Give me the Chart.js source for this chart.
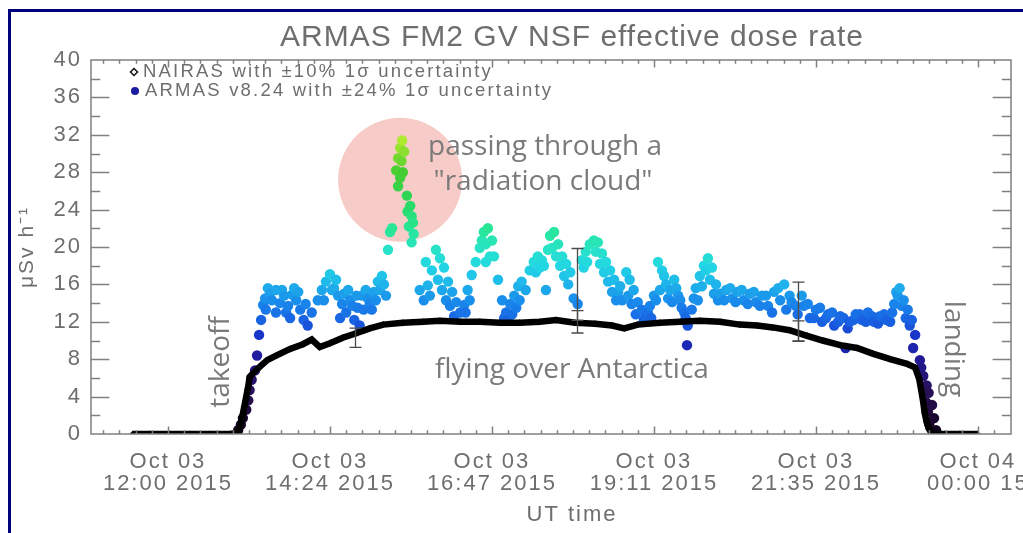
<!DOCTYPE html>
<html>
<head>
<meta charset="utf-8">
<title>ARMAS FM2 GV NSF effective dose rate</title>
<script src="https://cdn.jsdelivr.net/npm/chart.js@4.4.1/dist/chart.umd.min.js"></script>
<style>
  html, body { margin: 0; padding: 0; background: #fff; overflow: hidden; }
  #box { position: absolute; left: 8px; top: 9px; width: 1100px; height: 600px; border: 3px solid #00007a; }
  #doseChart { position: absolute; left: 0; top: 0; }
</style>
</head>
<body>
<div id="box"></div>
<canvas id="doseChart" width="1023" height="533"></canvas>
<script>
// ---- data (times are UT hours counted from Oct 03 00:00, so 24 = Oct 04 00:00) ----
const chartTitle = "ARMAS FM2 GV NSF effective dose rate";
const yAxisTitle = "\u03bcSv h\u207b\u00b9";
const xAxisTitle = "UT time";
const seriesLabels = [
  "NAIRAS with \u00b110% 1\u03c3 uncertainty",
  "ARMAS v8.24 with \u00b124% 1\u03c3 uncertainty"
];

const xTickValues = [12, 14.4, 16.8, 19.2, 21.6, 24];
const xTickLabels = [
  ["Oct 03", "12:00 2015"],
  ["Oct 03", "14:24 2015"],
  ["Oct 03", "16:47 2015"],
  ["Oct 03", "19:11 2015"],
  ["Oct 03", "21:35 2015"],
  ["Oct 04", "00:00 15"]
];

const nairasTime = [11.48, 11.73, 12.03, 12.33, 12.62, 12.92, 13.02, 13.07, 13.10, 13.13, 13.16, 13.19,
  13.21, 13.26, 13.33, 13.47, 13.61, 13.81, 14.00, 14.13, 14.25, 14.40, 14.59, 14.80, 14.99, 15.19,
  15.48, 15.78, 16.03, 16.33, 16.62, 16.92, 17.21, 17.51, 17.75, 18.03, 18.33, 18.58, 18.76, 18.96,
  19.29, 19.59, 19.88, 20.18, 20.47, 20.73, 20.96, 21.21, 21.47, 21.70, 21.96, 22.21, 22.44, 22.70,
  22.95, 23.07, 23.13, 23.16, 23.19, 23.21, 23.24, 23.27, 23.32, 23.51, 23.73, 23.99];
const nairasDose = [0, 0, 0, 0, 0, 0, 0.1, 0.8, 1.8, 2.9, 4.0, 5.1,
  6.1, 6.5, 7.0, 7.9, 8.4, 9.1, 9.6, 10.1, 9.3, 9.7, 10.3, 10.8, 11.3, 11.7,
  11.9, 12.0, 12.1, 12.0, 12.0, 11.9, 11.9, 12.0, 12.2, 11.9, 11.8, 11.6, 11.3, 11.7,
  11.9, 12.0, 12.1, 12.0, 11.7, 11.6, 11.4, 11.1, 10.5, 10.0, 9.5, 9.2, 8.6, 8.0,
  7.5, 7.1, 5.9, 4.7, 3.4, 2.3, 1.3, 0.6, 0, 0, 0, 0];

const armasTime = [
  // takeoff
  13.04, 13.08, 13.11, 13.16, 13.19, 13.21, 13.24, 13.29, 13.32, 13.35, 13.38, 13.41,
  13.44, 13.45, 13.48, 13.51, 13.54, 13.60, 13.60, 13.66, 13.69, 13.72, 13.75, 13.78, 13.81, 13.84,
  13.87, 13.90, 13.93, 13.96, 14.01, 14.04, 14.07, 14.13,
  14.22, 14.28, 14.31, 14.34, 14.40, 14.43, 14.46, 14.49, 14.52, 14.55, 14.58, 14.61, 14.64, 14.67,
  14.70, 14.73, 14.76, 14.79, 14.81, 14.84, 14.87, 14.90, 14.93, 14.96, 14.99, 15.02, 15.05, 15.08,
  15.11, 15.14, 15.17, 15.20, 15.23,
  // radiation cloud
  15.26, 15.29, 15.32, 15.38, 15.41, 15.41, 15.44, 15.44, 15.46, 15.47, 15.48, 15.50, 15.54, 15.55,
  15.57, 15.59, 15.61, 15.61, 15.63, 15.64,
  15.73, 15.79, 15.82, 15.85, 15.88, 15.91, 15.97, 16.00, 16.03, 16.06, 16.09, 16.12, 16.15, 16.18,
  16.21, 16.24, 16.27, 16.33, 16.39, 16.41, 16.44, 16.47, 16.50, 16.56,
  16.62, 16.65, 16.68, 16.71, 16.71, 16.74, 16.77, 16.80, 16.83, 16.89, 16.95, 16.98, 17.01, 17.04,
  17.07, 17.10, 17.13, 17.16, 17.19, 17.21, 17.24, 17.30,
  17.36, 17.42, 17.45, 17.48, 17.51, 17.54, 17.57, 17.60, 17.63, 17.66, 17.69, 17.72, 17.75, 17.78,
  17.81, 17.84, 17.87, 17.90, 17.93, 17.96, 18.01, 18.07,
  18.13, 18.16, 18.19, 18.21, 18.25, 18.31, 18.34, 18.37, 18.40, 18.43, 18.46, 18.49, 18.52, 18.55,
  18.58, 18.61, 18.64, 18.67, 18.70, 18.73, 18.79, 18.82, 18.84, 18.87, 18.90, 18.93, 18.96,
  19.02, 19.05, 19.08, 19.11, 19.14, 19.16, 19.20, 19.23, 19.26, 19.29, 19.32, 19.35, 19.38, 19.41,
  19.44, 19.47, 19.50, 19.53, 19.56, 19.59, 19.61, 19.65, 19.67, 19.69, 19.70, 19.76, 19.79, 19.82,
  19.85, 19.88, 19.91, 19.94, 19.97, 20.00, 20.03, 20.06, 20.09, 20.12, 20.15, 20.18,
  20.24, 20.27, 20.33, 20.36, 20.41, 20.44, 20.50, 20.53, 20.59, 20.62, 20.68, 20.71, 20.77, 20.80,
  20.86, 20.89, 20.95, 20.98, 21.04, 21.07, 21.13, 21.16, 21.21, 21.24, 21.30, 21.33, 21.39, 21.42,
  21.48, 21.51, 21.57, 21.60, 21.66, 21.69, 21.75, 21.78, 21.84, 21.87, 21.93, 21.96, 22.01, 22.04,
  22.07, 22.10, 22.16, 22.19, 22.25, 22.28, 22.34, 22.37, 22.43, 22.46, 22.52, 22.55, 22.61, 22.64,
  22.70, 22.73, 22.76, 22.79, 22.81, 22.84, 22.87, 22.90, 22.93, 22.96, 22.99, 23.02, 23.07,
  // landing
  23.04, 23.14, 23.16, 23.19, 23.23, 23.24, 23.26, 23.27, 23.28, 23.32, 23.35, 23.38
];
const armasDose = [
  0.4, 1.0, 1.7, 2.6, 3.6, 4.7, 5.8, 6.8, 8.4, 10.6, 12.2, 13.8,
  14.5, 13.3, 15.6, 15.0, 14.3, 15.4, 13.0, 14.0, 15.4, 14.8, 13.0, 13.7, 12.4, 14.9,
  15.6, 14.3, 15.2, 13.3, 12.2, 13.9, 11.6, 13.0,
  14.3, 15.4, 14.3, 16.3, 17.1, 15.4, 15.6, 16.5, 14.8, 12.4, 13.9, 15.0, 13.0, 15.4,
  14.3, 13.7, 12.2, 14.8, 13.5, 11.6, 14.8, 13.3, 15.4, 14.5, 13.9, 13.3, 15.2, 14.3,
  16.3, 15.4, 16.9, 16.0, 14.8,
  19.7, 21.6, 22.0, 28.2, 29.5, 26.5, 30.6, 27.4, 29.2, 31.4, 28.0, 30.2, 25.5, 23.8,
  22.2, 24.4, 23.3, 20.5, 22.6, 21.4,
  15.4, 14.3, 18.4, 15.9, 14.8, 17.5, 19.7, 16.5, 18.8, 15.4, 17.8, 14.3, 16.3, 13.7,
  15.2, 12.6, 14.1, 13.0, 13.8, 13.0, 15.4, 14.3, 17.0, 18.4,
  19.9, 20.7, 21.6, 20.3, 18.4, 22.0, 19.0, 20.7, 19.0, 16.5, 14.3, 12.4, 13.0, 12.2,
  13.9, 12.8, 14.8, 13.5, 15.8, 14.3, 16.3, 15.4,
  17.5, 18.4, 17.3, 19.0, 17.8, 18.6, 18.0, 15.4, 19.7, 21.2, 19.9, 21.6, 19.0, 20.3,
  18.0, 19.0, 16.9, 18.2, 16.0, 17.3, 14.5, 13.9,
  18.6, 17.8, 19.5, 18.4, 20.3, 20.7, 19.5, 20.5, 18.2, 19.3, 17.3, 18.4, 16.3, 17.5,
  15.2, 16.5, 14.3, 15.2, 15.8, 14.3, 17.3, 14.8, 16.5, 13.9, 15.4, 12.8, 14.1,
  13.3, 12.2, 12.6, 13.0, 13.7, 12.4, 14.8, 14.3, 18.4, 15.4, 17.5, 16.9, 16.0, 14.5,
  15.4, 14.1, 16.5, 15.6, 14.8, 14.3, 13.5, 13.0, 12.4, 9.5, 11.6, 13.3, 14.5, 15.6,
  14.3, 16.9, 15.8, 18.0, 17.5, 18.8, 16.5, 17.8, 15.0, 16.0, 14.3, 15.0,
  14.3, 15.4, 15.6, 14.5, 14.1, 15.2, 15.4, 14.3, 13.9, 15.0, 15.2, 14.1, 13.7, 14.8,
  14.8, 13.7, 13.0, 15.2, 15.6, 14.3, 16.0, 13.3, 14.8, 14.1, 13.7, 12.8, 14.8, 13.7,
  13.9, 12.4, 12.4, 13.3, 13.5, 12.0, 12.4, 12.8, 13.0, 11.6, 12.0, 12.6, 12.4, 9.2,
  11.3, 12.0, 12.2, 12.8, 12.8, 12.2, 12.0, 13.0, 12.6, 12.0, 11.8, 12.6, 12.8, 12.2,
  12.0, 13.0, 13.9, 15.2, 14.8, 15.6, 13.7, 14.3, 12.4, 13.3, 11.6, 12.2, 10.6,
  9.2, 7.9, 7.1, 6.2, 3.4, 5.2, 2.4, 4.4, 1.1, 3.1, 1.7, 0.4
];

// sample error bars (relative 1 sigma)
const errTime = [14.77, 18.06, 21.33];
const errNairasDose = [10.3, 12.0, 11.0];
const errArmasDose = [null, 16.0, 13.1];
const nairasSigma = 0.10;
const armasSigma = 0.24;

// highlighted "radiation cloud"
const cloudTime = 15.44;
const cloudDose = 27.2;

// ---- styles ----
const axisFont = "'Liberation Sans', Arial, sans-serif";
const noteFont = "'Open Sans', sans-serif";
const textGray = "#6e6e6e";

const colorStops = [
  [0, [15, 0, 25]], [4, [40, 15, 80]], [8, [35, 25, 150]], [10.5, [25, 50, 200]],
  [12, [25, 95, 225]], [14, [25, 135, 235]], [16, [30, 180, 235]], [18, [35, 215, 228]],
  [20, [40, 228, 195]], [22, [40, 230, 150]], [25, [40, 215, 90]], [28, [70, 205, 50]],
  [30.5, [150, 225, 45]], [32, [190, 240, 50]]
];

function doseColor(v) {
  if (v <= colorStops[0][0]) return `rgb(${colorStops[0][1].join(",")})`;
  for (let i = 1; i < colorStops.length; i++) {
    const [v1, c1] = colorStops[i];
    const [v0, c0] = colorStops[i - 1];
    if (v <= v1) {
      const f = (v - v0) / (v1 - v0);
      const c = c0.map((a, k) => Math.round(a + (c1[k] - a) * f));
      return `rgb(${c.join(",")})`;
    }
  }
  return `rgb(${colorStops[colorStops.length - 1][1].join(",")})`;
}

// IDL-like frame, inward ticks, legend, error bars and notes
const idlPlot = {
  id: "idlPlot",
  beforeDraw(chart) {
    chart.ctx.letterSpacing = "2px";
  },
  beforeDatasetsDraw(chart) {
    const { ctx, scales: { x, y } } = chart;
    ctx.save();
    ctx.beginPath();
    ctx.arc(x.getPixelForValue(cloudTime), y.getPixelForValue(cloudDose), 62, 0, Math.PI * 2);
    ctx.fillStyle = "#f7cbc7";
    ctx.fill();
    ctx.restore();
  },
  afterDatasetsDraw(chart) {
    const { ctx, chartArea: a, scales: { x, y } } = chart;
    ctx.save();

    // error bars
    ctx.strokeStyle = "#4a4a4a";
    ctx.lineWidth = 1.3;
    const bar = (t, v, s) => {
      const px = Math.round(x.getPixelForValue(t)) + 0.5;
      const top = y.getPixelForValue(v * (1 + s));
      const bot = y.getPixelForValue(v * (1 - s));
      ctx.beginPath();
      ctx.moveTo(px, top); ctx.lineTo(px, bot);
      ctx.moveTo(px - 6, top); ctx.lineTo(px + 6, top);
      ctx.moveTo(px - 6, bot); ctx.lineTo(px + 6, bot);
      ctx.stroke();
    };
    errTime.forEach((t, i) => {
      bar(t, errNairasDose[i], nairasSigma);
      if (errArmasDose[i] !== null) bar(t, errArmasDose[i], armasSigma);
    });

    // frame + ticks
    const w = a.right - a.left;
    const h = a.bottom - a.top;
    ctx.strokeStyle = "#808080";
    ctx.lineWidth = 1.5;
    ctx.strokeRect(a.left, a.top, w, h);
    ctx.beginPath();
    for (let v = 2; v < 40; v += 2) {
      const py = Math.round(y.getPixelForValue(v)) + 0.5;
      const len = v % 4 === 0 ? 0.02 * w : 0.01 * w;
      ctx.moveTo(a.left, py); ctx.lineTo(a.left + len, py);
      ctx.moveTo(a.right, py); ctx.lineTo(a.right - len, py);
    }
    for (let k = -5; k <= 52; k++) {
      const t = 12 + k * 0.24;
      const px = Math.round(x.getPixelForValue(t)) + 0.5;
      if (px < a.left + 3 || px > a.right - 3) continue;
      const len = k % 10 === 0 ? 0.02 * h : 0.01 * h;
      ctx.moveTo(px, a.bottom); ctx.lineTo(px, a.bottom - len);
      ctx.moveTo(px, a.top); ctx.lineTo(px, a.top + len);
    }
    ctx.stroke();

    // legend
    ctx.fillStyle = textGray;
    ctx.textAlign = "left";
    ctx.textBaseline = "middle";
    ctx.font = `18.5px ${axisFont}`;
    ctx.letterSpacing = "2.2px";
    const lx = a.left + 43;
    const ly = [a.top + 12, a.top + 31];
    ctx.beginPath();
    ctx.moveTo(lx, ly[0] - 3.5); ctx.lineTo(lx + 3.5, ly[0]);
    ctx.lineTo(lx, ly[0] + 3.5); ctx.lineTo(lx - 3.5, ly[0]); ctx.closePath();
    ctx.strokeStyle = "#111"; ctx.lineWidth = 1.5; ctx.stroke();
    ctx.beginPath();
    ctx.arc(lx + 1, ly[1], 4, 0, Math.PI * 2);
    ctx.fillStyle = "#1c1ca0"; ctx.fill();
    ctx.fillStyle = textGray;
    ctx.fillText(seriesLabels[0], lx + 9, ly[0]);
    ctx.fillText(seriesLabels[1], lx + 11, ly[1]);

    // title and x-axis title
    ctx.textAlign = "center";
    ctx.font = `30px ${axisFont}`;
    ctx.letterSpacing = "1px";
    ctx.fillText(chartTitle, 572, 38);
    ctx.font = `22px ${axisFont}`;
    ctx.letterSpacing = "2px";
    ctx.fillText(xAxisTitle, 572, 515);

    // notes
    ctx.letterSpacing = "0px";
    ctx.font = `28px ${noteFont}`;
    ctx.fillStyle = "#7a7a7a";
    ctx.fillText("passing through a", 545, 147);
    ctx.fillText("\"radiation cloud\"", 543, 182);
    ctx.fillText("flying over Antarctica", 572, 370);
    ctx.save();
    ctx.translate(221, 362);
    ctx.rotate(-Math.PI / 2);
    ctx.fillText("takeoff", 0, 0);
    ctx.restore();
    ctx.save();
    ctx.translate(953, 349);
    ctx.rotate(Math.PI / 2);
    ctx.fillText("landing", 0, 0);
    ctx.restore();

    ctx.restore();
  }
};

const ctx = document.getElementById("doseChart");

new Chart(ctx, {
  type: "scatter",
  data: {
    datasets: [
      {
        label: seriesLabels[0],
        data: nairasTime.map((t, i) => ({ x: t, y: nairasDose[i] })),
        showLine: true,
        borderColor: "#000",
        borderWidth: 6.5,
        pointStyle: "rectRot",
        pointRadius: 3.5,
        pointBackgroundColor: "#000",
        pointBorderWidth: 0,
        order: 0
      },
      {
        label: seriesLabels[1],
        data: armasTime.map((t, i) => ({ x: t, y: armasDose[i] })),
        pointRadius: 5.2,
        pointBorderWidth: 0,
        backgroundColor: (c) => doseColor(c.raw ? c.raw.y : 0),
        order: 1
      }
    ]
  },
  options: {
    responsive: false,
    animation: false,
    devicePixelRatio: 1,
    layout: { padding: { top: 60, right: 12, bottom: 0, left: 0 } },
    plugins: {
      legend: { display: false },
      tooltip: { enabled: false }
    },
    scales: {
      x: {
        type: "linear",
        min: 10.86,
        max: 24.49,
        grid: { display: false, drawTicks: false },
        border: { display: false },
        afterBuildTicks: (s) => { s.ticks = xTickValues.map((v) => ({ value: v })); },
        afterFit: (s) => { s.height = 99; s.paddingLeft = 0; s.paddingRight = 0; },
        ticks: {
          autoSkip: false,
          maxRotation: 0,
          minRotation: 0,
          padding: 17,
          color: textGray,
          font: { family: axisFont, size: 22, lineHeight: 1 },
          callback: (v) => xTickLabels[xTickValues.indexOf(v)]
        }
      },
      y: {
        min: 0,
        max: 40,
        grid: { display: false, drawTicks: false },
        border: { display: false },
        afterFit: (s) => { s.width = 91; s.paddingTop = 0; s.paddingBottom = 0; },
        ticks: {
          stepSize: 4,
          padding: 9,
          color: textGray,
          font: { family: axisFont, size: 22 }
        },
        title: {
          display: true,
          text: yAxisTitle,
          color: textGray,
          font: { family: axisFont, size: 21 },
          padding: { top: 15, bottom: 0 }
        }
      }
    }
  },
  plugins: [idlPlot]
});
</script>
</body>
</html>
